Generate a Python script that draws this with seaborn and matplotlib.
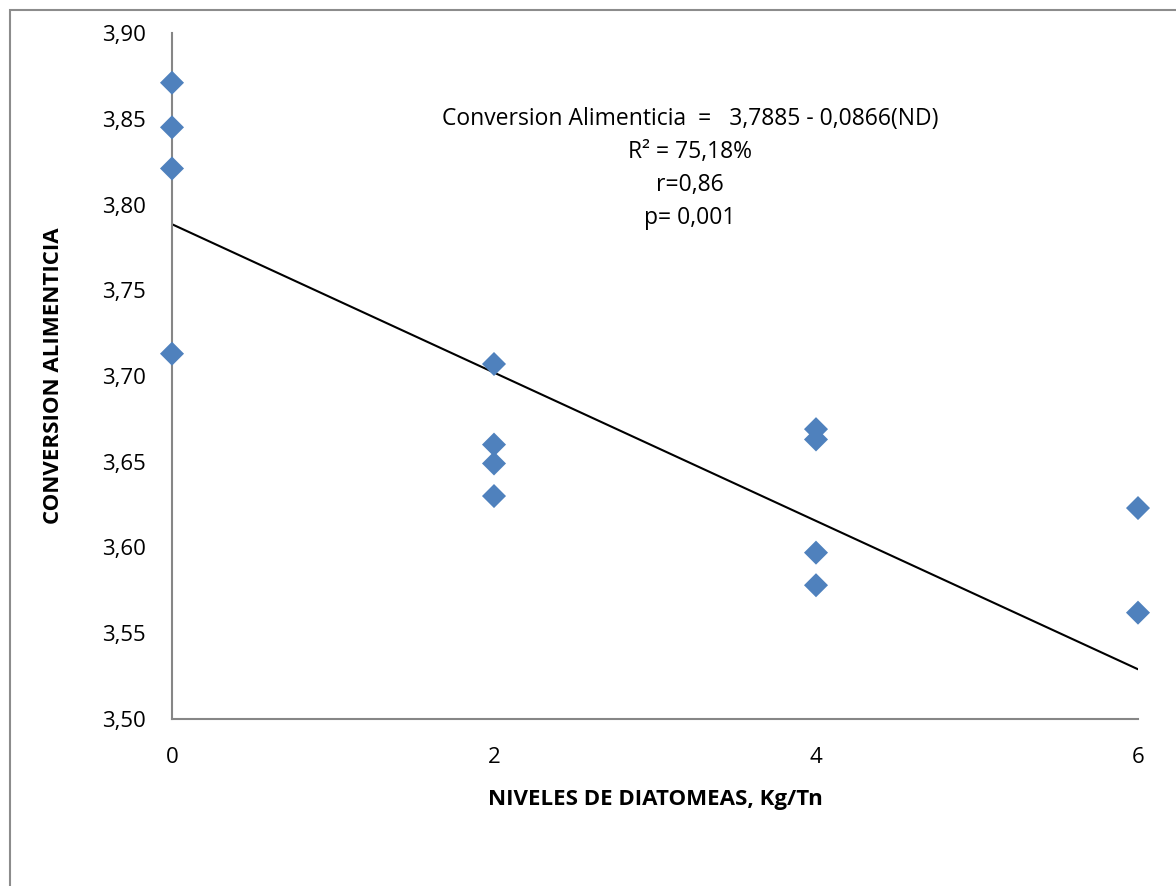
import matplotlib
matplotlib.use("Agg")
import matplotlib.pyplot as plt
import matplotlib.ticker as mticker
from matplotlib.patches import Rectangle
import seaborn as sns
import pandas as pd

# Data
niveles = [0, 0, 0, 0, 2, 2, 2, 2, 4, 4, 4, 4, 6, 6]
conversion = [3.871, 3.845, 3.821, 3.713,
              3.707, 3.660, 3.649, 3.630,
              3.669, 3.663, 3.597, 3.578,
              3.623, 3.562]
trend_x = [0, 6]
trend_y = [3.7885, 3.529]
x_ticks = [0, 2, 4, 6]
y_ticks = [3.50, 3.55, 3.60, 3.65, 3.70, 3.75, 3.80, 3.85, 3.90]

df = pd.DataFrame({"x": niveles, "y": conversion})
df_trend = pd.DataFrame({"x": trend_x, "y": trend_y})

sns.set_theme(style="white")
plt.rcParams["font.family"] = ["Open Sans", "DejaVu Sans"]
plt.rcParams["text.color"] = "black"
plt.rcParams["axes.labelcolor"] = "black"

fig = plt.figure(figsize=(11.76, 8.86), dpi=100)
fig.patches.append(Rectangle((10 / 1176, -0.1), 1.2, (1 - 10 / 886) + 0.1,
                             transform=fig.transFigure, fill=False,
                             edgecolor="#8c8c8c", linewidth=1.5))
ax = fig.add_axes([172 / 1176, 1 - 719 / 886, 966 / 1176, 686 / 886])

sns.lineplot(data=df_trend, x="x", y="y", ax=ax, color="black", linewidth=1.5)
sns.scatterplot(data=df, x="x", y="y", ax=ax, marker="D", s=150,
                color="#4F81BD", edgecolor="none", zorder=3, clip_on=False)

ax.set_xlim(0, 6)
ax.set_ylim(3.50, 3.90)
ax.set_xticks(x_ticks)
ax.set_yticks(y_ticks)
ax.xaxis.set_major_formatter(mticker.FuncFormatter(lambda v, p: f"{v:.0f}"))
ax.yaxis.set_major_formatter(mticker.FuncFormatter(lambda v, p: f"{v:.2f}".replace(".", ",")))
ax.tick_params(axis="both", length=0, labelsize=16, colors="black")
ax.tick_params(axis="y", pad=19)
ax.tick_params(axis="x", pad=20)
for s in ["top", "right"]:
    ax.spines[s].set_visible(False)
for s in ["left", "bottom"]:
    ax.spines[s].set_color("#868686")
    ax.spines[s].set_linewidth(1.5)
ax.set_xlabel("NIVELES DE DIATOMEAS, Kg/Tn", fontsize=16, fontweight="bold",
              labelpad=15, color="black")
ax.set_ylabel("CONVERSION ALIMENTICIA", fontsize=16, fontweight="bold",
              labelpad=27, color="black")

ax.text(3.217, 3.857,
        "Conversion Alimenticia  =   3,7885 - 0,0866(ND)\nR² = 75,18%\nr=0,86\np= 0,001",
        ha="center", va="top", fontsize=16.5, linespacing=1.5, color="black",
        transform=ax.transData)

fig.savefig("out.png", dpi=100)
